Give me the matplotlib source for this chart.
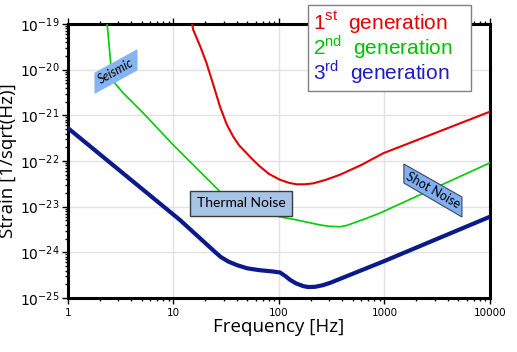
import matplotlib.pyplot as plt
from matplotlib.patches import Polygon
from matplotlib.ticker import LogLocator, FixedFormatter, NullFormatter

# noise curves: frequency [Hz] and log10(strain)
f1 = [14.7, 15.4, 18, 20.6, 24, 27.6, 32, 36.9, 42, 49.4, 57, 66, 80, 102, 125, 147, 175, 211, 280, 379, 600, 975, 10000]
h1 = [-18.9, -19.13, -19.5, -19.86, -20.35, -20.81, -21.2, -21.47, -21.66, -21.83, -21.98, -22.12, -22.28,
      -22.41, -22.48, -22.51, -22.51, -22.49, -22.41, -22.30, -22.09, -21.83, -20.92]

f2 = [2.32, 2.38, 2.54, 2.79, 3.3, 5.17, 9.96, 27.6, 40, 60, 82, 147, 245, 300, 379, 440, 506, 650, 906, 10000]
h2 = [-18.9, -19.13, -19.86, -20.30, -20.5, -20.95, -21.65, -22.67, -23.03, -23.12, -23.18, -23.29, -23.40,
      -23.43, -23.44, -23.41, -23.36, -23.27, -23.14, -22.04]

f3 = [1, 11.5, 25, 28, 33, 40, 50, 65, 88, 102, 115, 127, 145, 170, 190, 220, 260, 304, 975, 10000]
h3 = [-21.28, -23.29, -24.0, -24.1, -24.2, -24.28, -24.35, -24.39, -24.42, -24.44, -24.52, -24.60, -24.68,
      -24.74, -24.76, -24.755, -24.72, -24.67, -24.20, -23.22]

xticks = [1, 10, 100, 1000, 10000]
xticklabels = ['1', '10', '100', '1000', '10000']
yticks = [1e-25, 1e-24, 1e-23, 1e-22, 1e-21, 1e-20, 1e-19]

labels = ['1$^{\\rm st}$  generation   ', '2$^{\\rm nd}$  generation   ', '3$^{\\rm rd}$  generation   ']
line_colors = ['#e00000', '#00cc00', '#0a1a8a']
text_colors = ['#e00000', '#00c000', '#1c1cc4']

plt.rcParams['mathtext.fontset'] = 'custom'
plt.rcParams['mathtext.rm'] = 'Liberation Sans'

fig = plt.figure(figsize=(5.17, 3.52), dpi=100)
ax = fig.add_axes([0.1315, 0.1534, 0.8162, 0.7784])

l1, = ax.plot(f1, [10**v for v in h1], color=line_colors[0], lw=1.5, label=labels[0], zorder=3)
l2, = ax.plot(f2, [10**v for v in h2], color=line_colors[1], lw=1.2, label=labels[1], zorder=3)
l3, = ax.plot(f3, [10**v for v in h3], color=line_colors[2], lw=3.0, label=labels[2], zorder=3,
              solid_joinstyle='round')

ax.set_xscale('log')
ax.set_yscale('log')
ax.set_xlim(1, 1e4)
ax.set_ylim(1e-25, 1e-19)

ax.set_xticks(xticks)
ax.xaxis.set_major_formatter(FixedFormatter(xticklabels))
ax.xaxis.set_minor_locator(LogLocator(base=10, subs=range(2, 10), numticks=20))
ax.xaxis.set_minor_formatter(NullFormatter())
ax.set_yticks(yticks)
ax.yaxis.set_minor_locator(LogLocator(base=10, subs=range(2, 10), numticks=20))
ax.yaxis.set_minor_formatter(NullFormatter())

for s in ax.spines.values():
    s.set_linewidth(2.2)
ax.tick_params(which='major', direction='out', length=4, width=1, top=True)
ax.tick_params(which='minor', direction='out', length=2.5, width=1, top=True)
ax.tick_params(axis='x', labelsize=7.5, pad=3)
ax.tick_params(axis='y', labelsize=10, pad=2)
ax.grid(True, which='major', color='#e2e2e2', lw=1)
ax.set_axisbelow(True)

ax.set_xlabel('Frequency [Hz]', fontsize=13.5, family='Open Sans', labelpad=0)
ax.set_ylabel('Strain [1/sqrt(Hz)]', fontsize=13.5, family='Open Sans', labelpad=2)

# annotation boxes
seis = Polygon([(0.064, 0.821), (0.1635, 0.905), (0.1635, 0.832), (0.064, 0.748)],
               closed=True, transform=ax.transAxes, fc='#86b4f2', ec='#86b4f2', lw=0.8, zorder=4)
ax.add_patch(seis)
ax.text(0.1137, 0.8266, 'Seismic', transform=ax.transAxes, rotation=29, style='italic',
        family='Lato', fontsize=9, ha='center', va='center', rotation_mode='anchor', zorder=5)

shot = Polygon([(0.796, 0.489), (0.9336, 0.3686), (0.9336, 0.2956), (0.796, 0.4197)],
               closed=True, transform=ax.transAxes, fc='#80b0f0', ec='#3c4660', lw=0.8, zorder=4)
ax.add_patch(shot)
ax.text(0.865, 0.394, 'Shot Noise', transform=ax.transAxes, rotation=-29.6,
        family='Lato', fontsize=9, ha='center', va='center', rotation_mode='anchor', zorder=5)

ax.text(0.41, 0.345, 'Thermal Noise', transform=ax.transAxes, family='Lato', fontsize=10,
        ha='center', va='center', zorder=5,
        bbox=dict(boxstyle='square,pad=0.45', fc='#a7c3e5', ec='#3a3a3a', lw=1))

leg = ax.legend(handles=[l1, l2, l3], loc='upper left', bbox_to_anchor=(0.596, 0.986),
                bbox_transform=fig.transFigure, borderaxespad=0, handlelength=0, handletextpad=0,
                fancybox=False, framealpha=1, edgecolor='#808080',
                prop={'family': 'Liberation Sans', 'size': 15}, labelspacing=-0.15, borderpad=0.25)
leg.get_frame().set_linewidth(1)
for t, c in zip(leg.get_texts(), text_colors):
    t.set_color(c)
for h in leg.legend_handles:
    h.set_visible(False)
leg.set_zorder(10)

fig.savefig('out.png', dpi=100)
